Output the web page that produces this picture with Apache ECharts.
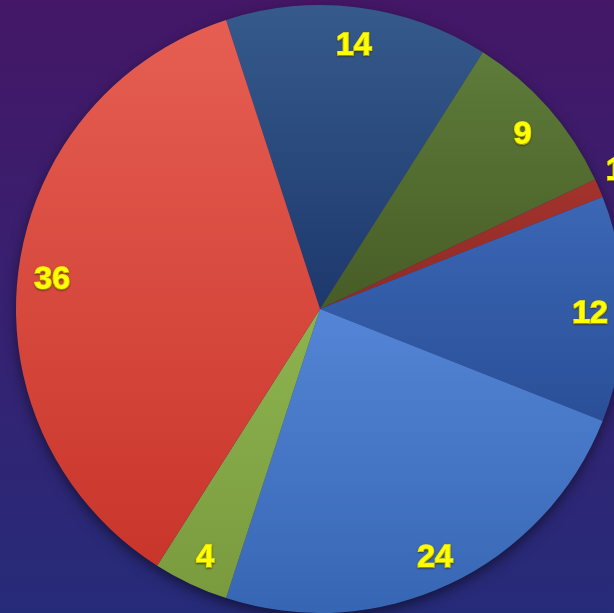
<!DOCTYPE html>
<html>
<head>
<meta charset="utf-8">
<script src="https://cdn.jsdelivr.net/npm/echarts@6/dist/echarts.min.js"></script>
<style>
  html, body { margin: 0; padding: 0; }
  #chart {
    width: 614px;
    height: 613px;
    background: linear-gradient(180deg, #441767 0%, #392070 45%, #262b79 100%);
  }
</style>
</head>
<body>
<div id="chart"></div>
<script>
const names = ['a', 'b', 'c', 'd', 'e', 'f', 'g']
const values = [14, 9, 1, 12, 24, 4, 36]
// top / bottom colour of each slice
const topColors = ['#365a8c', '#5e7c3a', '#a3332d', '#3b67b5', '#5485d6', '#8db44f', '#e65e52']
const bottomColors = ['#1d386c', '#475c26', '#8e2a25', '#2a4f98', '#3666b3', '#7a9a3e', '#c9352a']

const chart = echarts.init(document.getElementById('chart'))

const pieData = values.map((v, i) => ({
  name: names[i],
  value: v,
  itemStyle: {
    color: new echarts.graphic.LinearGradient(0, 0, 0, 1, [
      { offset: 0, color: topColors[i] },
      { offset: 1, color: bottomColors[i] }
    ])
  }
}))

const labelData = values.map((v, i) => {
  const item = { name: names[i], value: v }
  if (v === 1) {
    // the tiny slice has its label pushed out past the edge
    item.label = { offset: [47, -31] }
  }
  return item
})

const center = [320, 309]

chart.setOption({
  animation: false,
  series: [
    {
      // shadow under the pie
      type: 'pie',
      center: center,
      radius: 303,
      silent: true,
      label: { show: false },
      data: [{
        value: 1,
        itemStyle: {
          color: '#2a2a6a',
          shadowBlur: 14,
          shadowOffsetY: 5,
          shadowColor: 'rgba(0,0,0,0.55)'
        }
      }]
    },
    {
      type: 'pie',
      center: center,
      radius: 304,
      startAngle: 108,
      clockwise: true,
      label: { show: false },
      labelLine: { show: false },
      itemStyle: { borderWidth: 0 },
      data: pieData
    },
    {
      // labels only
      type: 'pie',
      center: center,
      radius: [230, 304],
      startAngle: 108,
      clockwise: true,
      silent: true,
      avoidLabelOverlap: false,
      itemStyle: { color: 'rgba(0,0,0,0)' },
      label: {
        show: true,
        position: 'inside',
        formatter: '{c}',
        offset: [0, 5],
        color: '#ffff00',
        fontFamily: 'Liberation Sans',
        fontWeight: 'bold',
        fontSize: 32,
        textBorderColor: '#ffff00',
        textBorderWidth: 1.6,
        textShadowColor: 'rgba(60,40,0,0.6)',
        textShadowBlur: 2,
        textShadowOffsetY: 1
      },
      labelLine: { show: false },
      data: labelData
    }
  ]
})
</script>
</body>
</html>
